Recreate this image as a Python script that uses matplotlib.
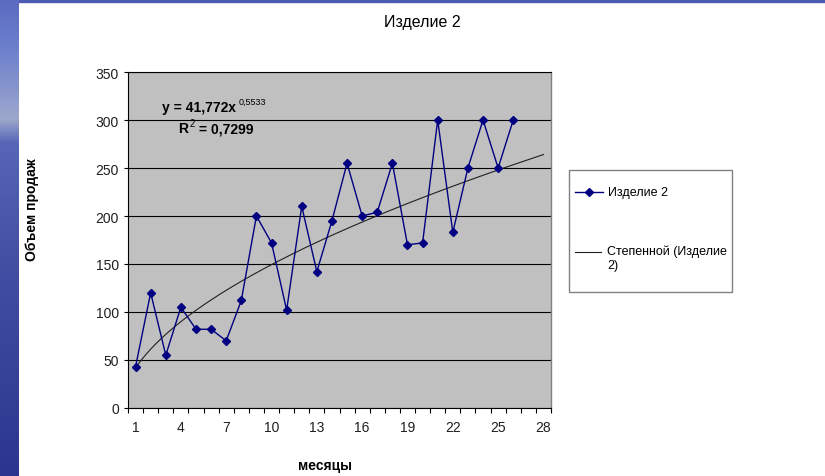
import numpy as np
import matplotlib
matplotlib.use("Agg")
import matplotlib.pyplot as plt
from matplotlib.patches import Rectangle
from matplotlib.lines import Line2D

plt.rcParams['font.family'] = ['Liberation Sans', 'DejaVu Sans']

# monthly sales, product 2
months = np.arange(1, 27)
sales = [43, 120, 55, 105, 82, 82, 70, 112, 200, 172, 102, 210, 142,
         195, 255, 200, 204, 255, 170, 172, 300, 183, 250, 300, 250, 300]

# power trend y = a * x^b
trend_a = 41.772
trend_b = 0.5533
trend_r2 = 0.7299
trend_last = 28

x_labels = [1, 4, 7, 10, 13, 16, 19, 22, 25, 28]
y_ticks = [0, 50, 100, 150, 200, 250, 300, 350]

title = 'Изделие 2'
series_name = 'Изделие 2'
trend_name = 'Степенной (Изделие\n2)'
x_title = 'месяцы'
y_title = 'Объем продаж'

W, H = 825, 477
fig = plt.figure(figsize=(W / 100, H / 100), dpi=100)
fig.patch.set_facecolor('white')

# slide background: blue strip on the left and a thin band on top
bg = fig.add_axes([0, 0, 19 / W, 1])
stops = np.array([0.0, 0.1, 0.2, 0.25, 0.3, 0.55, 1.0])
cols = np.array([[0.36, 0.42, 0.76], [0.42, 0.50, 0.80], [0.55, 0.60, 0.80],
                 [0.62, 0.66, 0.80], [0.34, 0.40, 0.72], [0.26, 0.31, 0.64],
                 [0.17, 0.21, 0.56]])
yy = np.linspace(0, 1, 200)
grad = np.stack([np.interp(yy, stops, cols[:, i]) for i in range(3)], axis=1)
bg.imshow(grad[:, None, :], aspect='auto', extent=[0, 1, 1, 0])
bg.axis('off')
fig.add_artist(Rectangle((0, 1 - 3 / H), 1, 3 / H, transform=fig.transFigure,
                         color=(0.30, 0.36, 0.70), zorder=0))


def px(x, y):
    return x / W, 1 - y / H


ax = fig.add_axes([128 / W, 68 / H, 423 / W, 336 / H])
ax.set_facecolor('#C0C0C0')
ax.set_xlim(0.5, 28.5)
ax.set_ylim(0, 350)

ax.set_yticks(y_ticks)
ax.yaxis.grid(True, color='black', linewidth=0.8)
ax.set_axisbelow(True)

# category boundaries carry the tick marks, labels sit on the categories
ax.set_xticks(np.arange(0.5, 29, 1))
ax.set_xticklabels([])
ax.set_xticks(x_labels, minor=True)
ax.set_xticklabels([str(v) for v in x_labels], minor=True)
ax.tick_params(axis='x', which='major', length=3.5, width=0.8, direction='out')
ax.tick_params(axis='x', which='minor', length=0, pad=9, labelsize=10,
               labelcolor='#202020')
ax.tick_params(axis='y', length=3, width=0.8, direction='out', pad=3.5,
               labelsize=10, labelcolor='#202020')

for side in ['left', 'bottom', 'top']:
    ax.spines[side].set_color('black')
    ax.spines[side].set_linewidth(0.8)
ax.spines['right'].set_color('#808080')
ax.spines['right'].set_linewidth(1.0)

xt = np.linspace(1, trend_last, 300)
ax.plot(xt, trend_a * xt ** trend_b, color='#202020', linewidth=0.8, zorder=3)
ax.plot(months, sales, color='#000080', linewidth=1.0, marker='D',
        markersize=4.2, markerfacecolor='#000080', markeredgecolor='#000080',
        zorder=4)

# trend equation
t1 = ax.text(0.080, 0.885, 'y = 41,772x', transform=ax.transAxes,
             fontsize=10, fontweight='bold', va='baseline', ha='left')
ax.annotate('{:.4f}'.format(trend_b).replace('.', ','), xy=(1, 1), xycoords=t1,
            xytext=(2, -1), textcoords='offset points', fontsize=6.5,
            va='center', ha='left')
tr = ax.text(0.118, 0.82, 'R', transform=ax.transAxes,
             fontsize=10, fontweight='bold', va='baseline', ha='left')
s2 = ax.annotate('2', xy=(1, 1), xycoords=tr, xytext=(1, -1),
                 textcoords='offset points', fontsize=7, va='center', ha='left')
ax.annotate(' = ' + '{:.4f}'.format(trend_r2).replace('.', ','), xy=(1, 0),
            xycoords=(s2, tr), xytext=(0, 0), textcoords='offset points',
            fontsize=10, fontweight='bold', va='bottom', ha='left')

# titles
fig.text(*px(422, 22), title, fontsize=11.5, ha='center', va='center')
fig.text(*px(325, 466), x_title, fontsize=10, fontweight='bold',
         ha='center', va='center')
fig.text(*px(32, 210), y_title, fontsize=10, fontweight='bold',
         ha='center', va='center', rotation=90)

# legend box
lx0, ly0, lx1, ly1 = 569, 171, 732, 293
fig.add_artist(Rectangle(px(lx0, ly1), (lx1 - lx0) / W, (ly1 - ly0) / H,
                         transform=fig.transFigure, facecolor='white',
                         edgecolor='#808080', linewidth=1.0))
fig.add_artist(Line2D([575 / W, 603 / W], [1 - 193 / H] * 2, color='#000080',
                      linewidth=1.0, transform=fig.transFigure))
fig.add_artist(Line2D([589 / W], [1 - 193 / H], marker='D', markersize=4.2,
                      color='#000080', transform=fig.transFigure))
fig.text(*px(608, 193), series_name, fontsize=9, ha='left', va='center')
fig.add_artist(Line2D([575 / W, 601 / W], [1 - 253 / H] * 2, color='#202020',
                      linewidth=0.8, transform=fig.transFigure))
fig.text(*px(607, 246), trend_name, fontsize=9, ha='left', va='top',
         linespacing=1.15)

fig.savefig('out.png', dpi=100)
